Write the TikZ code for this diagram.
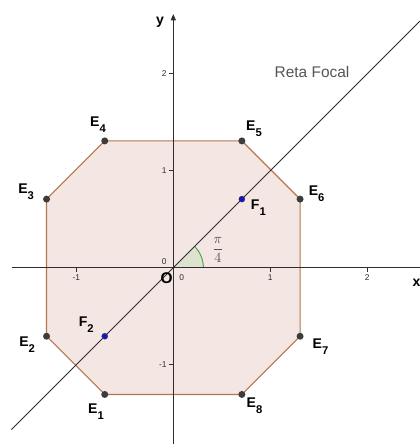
\documentclass[tikz,border=0pt]{standalone}
\usepackage{amsmath}
\usepackage{fontspec}
\newfontfamily\sansgeo{Liberation Sans}
\usepackage{tikz}
\usetikzlibrary{positioning,calc,arrows.meta}
\definecolor{ggeixo}{HTML}{2E2E2E}
\definecolor{gglado}{HTML}{B5764E}
\definecolor{ggfundo}{HTML}{F4E6E2}
\definecolor{ggponto}{HTML}{3C3C3C}
\definecolor{ggfoco}{HTML}{1414C8}
\definecolor{ggangulo}{HTML}{4CA64C}
\definecolor{ggangfundo}{HTML}{DCE3CF}
\definecolor{ggtexto}{HTML}{555555}
\newcommand{\indice}[1]{\raisebox{-4.2pt}{\fontsize{8}{9}\selectfont #1}}
\tikzset{
  plano/.style={x=2.425cm,y=2.425cm,every node/.style={inner sep=0pt,outer sep=0pt,anchor=center}},
  eixo/.style={draw=ggeixo,line width=0.7pt},
  marca/.style={draw=ggeixo,line width=0.5pt},
  reta/.style={draw=ggeixo,line width=0.6pt},
  lado/.style={draw=gglado,line width=0.8pt,fill=ggfundo},
  vert/.style={circle,fill=ggponto,minimum size=1.75mm},
  foco/.style={circle,fill=ggfoco,draw=ggponto,line width=0.3pt,minimum size=1.5mm},
  rot/.style={font=\sansgeo\bfseries\fontsize{10}{12}\selectfont,text=black},
  num/.style={font=\sansgeo\fontsize{6}{7}\selectfont,text=ggeixo},
}
\begin{document}
\begin{tikzpicture}[plano,
  seta/.style={-{Triangle[length=1.6mm,width=1.3mm]}},
  angulo/.style={draw=ggangulo,line width=0.7pt}]
  \useasboundingbox (-1.787,-1.818) rectangle (2.543,2.760);
  \coordinate (O) at (0,0);
  \coordinate (xa) at (-1.666,0); \coordinate (xb) at (2.543,0);
  \coordinate (ya) at (0,-1.818); \coordinate (yb) at (0,2.615);
  \coordinate (ra) at (-1.67,-1.67); \coordinate (rb) at (2.543,2.543);
  \foreach \n/\x/\y in {v1/-0.707/-1.307,v2/-1.307/-0.707,v3/-1.307/0.707,v4/-0.707/1.307,
    v5/0.707/1.307,v6/1.307/0.707,v7/1.307/-0.707,v8/0.707/-1.307,f1/0.707/0.707,f2/-0.707/-0.707}
    \coordinate (\n) at (\x,\y);
  \draw[lado] (v1) -- (v2) -- (v3) -- (v4) -- (v5) -- (v6) -- (v7) -- (v8) -- cycle;
  \fill[ggangfundo] (O) -- (0.31,0) arc[start angle=0,end angle=45,radius=0.31] -- cycle;
  \draw[angulo] (0.31,0) arc[start angle=0,end angle=45,radius=0.31];
  \foreach \k in {-1,1,2} {
    \draw[marca] (\k,0) -- (\k,-0.045);
    \draw[marca] (0,\k) -- (-0.045,\k);
    \node[num] (tx\k) at (\k,-0.103) {\k};
    \node[num,anchor=east] (ty\k) at (-0.07,\k) {\k};
  }
  \node[num] (zx) at (-0.093,0.062) {0};
  \node[num] (zy) at (0.087,-0.099) {0};
  \draw[eixo] (xa) -- (xb);
  \draw[eixo,seta] (ya) -- (yb);
  \draw[reta] (ra) -- (rb);
  \foreach \n in {1,...,8} \node[vert] (E\n) at (v\n) {};
  \foreach \n in {1,2} \node[foco] (F\n) at (f\n) {};
  \foreach \n/\dx/\dy/\l/\k in {E1/-0.09/-0.18/E/1,E2/-0.2/-0.09/E/2,E3/-0.21/0.08/E/3,E4/-0.07/0.17/E/4,
    E5/0.125/0.125/E/5,E6/0.17/0.06/E/6,E7/0.21/-0.11/E/7,E8/0.13/-0.12/E/8,F1/0.17/-0.09/F/1,F2/-0.19/0.12/F/2}
    \node[rot] (r\n) at ($(\n)+(\dx,\dy)$) {\l\indice{\k}};
  \node[rot] (lx) at (2.509,-0.158) {x};
  \node[rot] (ly) at (-0.137,2.533) {y};
  \node[rot,font=\sansgeo\bfseries\fontsize{11}{12}\selectfont] (lO) at (-0.068,-0.109) {O};
  \node[font=\sansgeo\fontsize{11}{13}\selectfont,text=ggtexto] (lreta) at (1.43,2.02) {Reta Focal};
  \node[text=ggtexto,font=\fontsize{10}{12}\selectfont] (lang) at (0.46,0.18) {$\dfrac{\pi}{4}$};
\end{tikzpicture}
\end{document}
